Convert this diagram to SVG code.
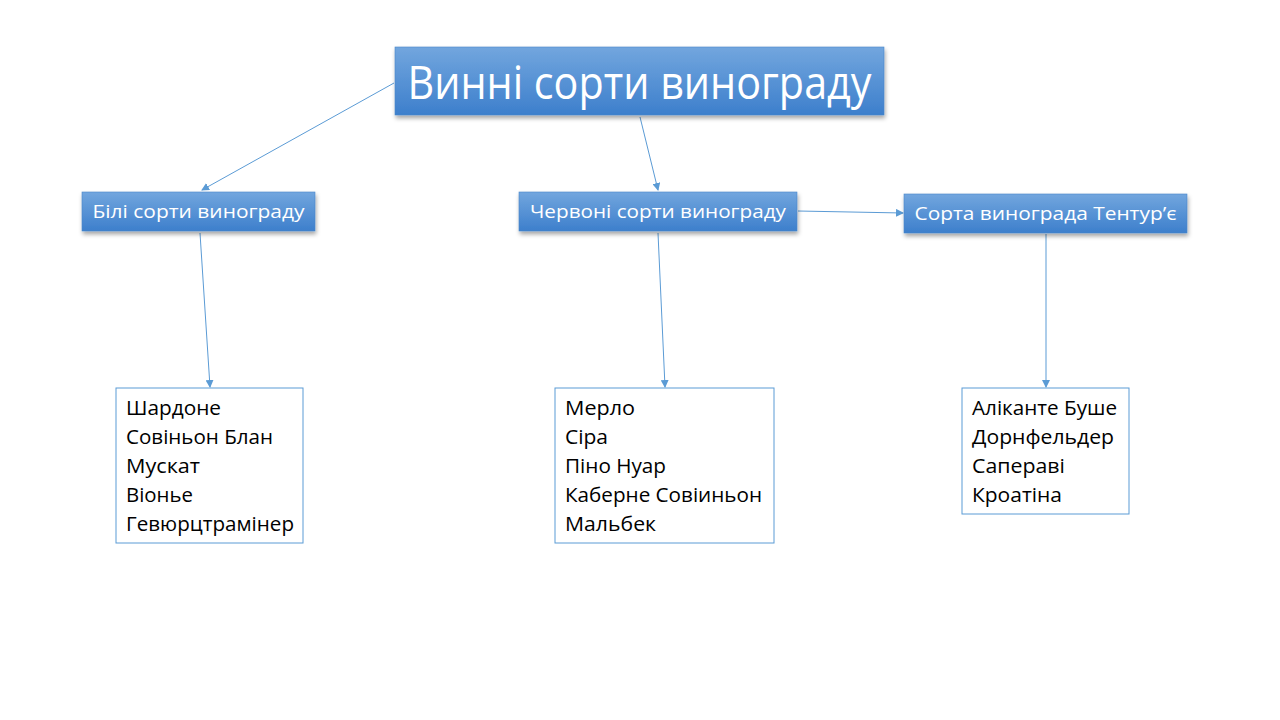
<svg xmlns="http://www.w3.org/2000/svg" width="1280" height="720" viewBox="0 0 1280 720">
<style>
.hdr{stroke:#4a86c8;stroke-width:0.6}
.ht{font-family:"Open Sans","Noto Sans",sans-serif;fill:#fff}
.lst{fill:#fff;stroke:#5b9bd5;stroke-width:1}
.lt{font-family:"Open Sans","Noto Sans",sans-serif;font-size:20.5px;fill:#000}
.con{stroke:#5b9bd5;stroke-width:1;fill:none;marker-end:url(#arr)}
</style>
<defs>
<linearGradient id="g" x1="0" y1="0" x2="0" y2="1">
<stop offset="0" stop-color="#72a6de"/>
<stop offset="1" stop-color="#3d7fcc"/>
</linearGradient>
<filter id="sh" x="-10%" y="-20%" width="120%" height="150%">
<feDropShadow dx="1" dy="3" stdDeviation="2" flood-color="#000" flood-opacity="0.35"/>
</filter>
<marker id="arr" markerWidth="8" markerHeight="8" refX="7" refY="4" orient="auto" markerUnits="userSpaceOnUse">
<path d="M0,0 L8,4 L0,8 z" fill="#5b9bd5"/>
</marker>
</defs>
<rect width="1280" height="720" fill="#fff"/>
<g id="connectors">
<line class="con" x1="394" y1="83" x2="202" y2="190"/>
<line class="con" x1="640" y1="117" x2="658" y2="190"/>
<line class="con" x1="798" y1="211" x2="903" y2="213"/>
<line class="con" x1="200" y1="233" x2="210" y2="387"/>
<line class="con" x1="658" y1="233" x2="665" y2="387"/>
<line class="con" x1="1046" y1="234" x2="1046" y2="387"/>
</g>
<g id="root">
<rect class="hdr" x="395" y="47" width="489" height="68" fill="url(#g)" filter="url(#sh)"/>
<text class="ht" x="639.5" y="99" font-size="46" text-anchor="middle" textLength="464" lengthAdjust="spacingAndGlyphs">Винні сорти винограду</text>
</g>
<g id="white">
<rect class="hdr" x="82" y="192" width="233" height="39" fill="url(#g)" filter="url(#sh)"/>
<text class="ht" x="198.5" y="218" font-size="18" text-anchor="middle" textLength="212" lengthAdjust="spacingAndGlyphs">Білі сорти винограду</text>
</g>
<g id="red">
<rect class="hdr" x="519" y="192" width="278" height="39" fill="url(#g)" filter="url(#sh)"/>
<text class="ht" x="658" y="218" font-size="18" text-anchor="middle" textLength="256" lengthAdjust="spacingAndGlyphs">Червоні сорти винограду</text>
</g>
<g id="teinturier">
<rect class="hdr" x="904" y="194" width="283" height="39" fill="url(#g)" filter="url(#sh)"/>
<text class="ht" x="1045.5" y="220" font-size="19" text-anchor="middle" textLength="262" lengthAdjust="spacingAndGlyphs">Сорта винограда Тентур’є</text>
</g>
<g id="list-white">
<rect class="lst" x="116" y="388" width="187" height="155"/>
<text class="lt" x="126" y="415" textLength="95" lengthAdjust="spacingAndGlyphs">Шардоне</text>
<text class="lt" x="126" y="444" textLength="147" lengthAdjust="spacingAndGlyphs">Совіньон Блан</text>
<text class="lt" x="126" y="473" textLength="74" lengthAdjust="spacingAndGlyphs">Мускат</text>
<text class="lt" x="126" y="502" textLength="67" lengthAdjust="spacingAndGlyphs">Віонье</text>
<text class="lt" x="126" y="531" textLength="168" lengthAdjust="spacingAndGlyphs">Гевюрцтрамінер</text>
</g>
<g id="list-red">
<rect class="lst" x="555" y="388" width="219" height="155"/>
<text class="lt" x="565" y="415" textLength="70" lengthAdjust="spacingAndGlyphs">Мерло</text>
<text class="lt" x="565" y="444" textLength="43" lengthAdjust="spacingAndGlyphs">Сіра</text>
<text class="lt" x="565" y="473" textLength="101" lengthAdjust="spacingAndGlyphs">Піно Нуар</text>
<text class="lt" x="565" y="502" textLength="197" lengthAdjust="spacingAndGlyphs">Каберне Совіиньон</text>
<text class="lt" x="565" y="531" textLength="91" lengthAdjust="spacingAndGlyphs">Мальбек</text>
</g>
<g id="list-teinturier">
<rect class="lst" x="962" y="388" width="167" height="126"/>
<text class="lt" x="972" y="415" textLength="145" lengthAdjust="spacingAndGlyphs">Аліканте Буше</text>
<text class="lt" x="972" y="444" textLength="142" lengthAdjust="spacingAndGlyphs">Дорнфельдер</text>
<text class="lt" x="972" y="473" textLength="93" lengthAdjust="spacingAndGlyphs">Сапераві</text>
<text class="lt" x="972" y="502" textLength="90" lengthAdjust="spacingAndGlyphs">Кроатіна</text>
</g>
</svg>
